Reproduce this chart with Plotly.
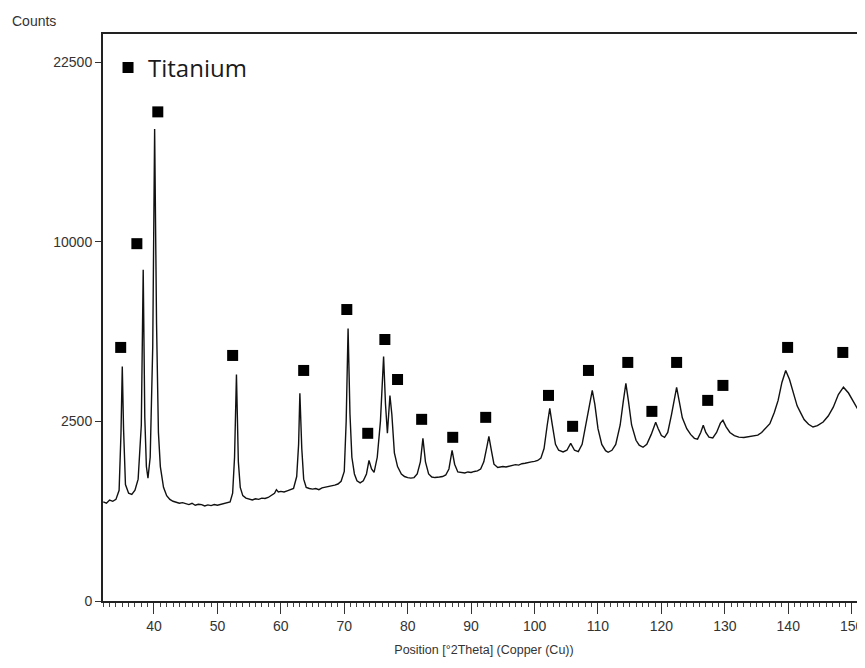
import numpy as np
import plotly.graph_objects as go

# XRD pattern: 2-theta (degrees) and intensity (counts)
two_theta = [32.0, 32.5, 33.0, 33.5, 34.0, 34.5, 34.8, 35.0, 35.2, 35.5, 36.0, 36.5, 37.0, 37.5,
             38.0, 38.3, 38.55, 38.8, 39.05, 39.4, 39.8, 40.1, 40.4, 40.7, 41.0, 41.5, 42.0, 42.5,
             43.0, 43.5, 44.0, 44.5, 45.0, 45.5, 46.0, 46.5, 47.0, 47.5, 48.0, 48.5, 49.0, 49.5,
             50.0, 50.5, 51.0, 51.5, 52.0, 52.4, 52.7, 53.0, 53.3, 53.6, 54.0, 54.5, 55.0, 55.5,
             56.0, 56.5, 57.0, 57.5, 58.0, 58.5, 59.0, 59.3, 59.6, 60.0, 60.5, 61.0, 61.5, 62.0,
             62.5, 62.8, 63.0, 63.3, 63.6, 64.0, 64.5, 65.0, 65.5, 66.0, 66.5, 67.0, 67.5, 68.0,
             68.5, 69.0, 69.5, 70.0, 70.3, 70.6, 70.9, 71.2, 71.6, 72.0, 72.5, 73.0, 73.5, 73.9,
             74.3, 74.7, 75.2, 75.7, 76.2, 76.5, 76.8, 77.2, 77.5, 77.9, 78.4, 79.0, 79.5, 80.0,
             80.5, 81.0, 81.5, 82.0, 82.4, 82.8, 83.3, 83.8, 84.3, 85.0, 85.5, 86.0, 86.5, 87.0,
             87.4, 87.9, 88.5, 89.0, 89.5, 90.0, 90.5, 91.0, 91.5, 92.0, 92.5, 92.8, 93.2, 93.6,
             94.2, 95.0, 95.5, 96.0, 96.5, 97.0, 97.5, 98.0, 98.5, 99.0, 99.5, 100.0, 100.5, 101.0,
             101.5, 102.0, 102.4, 102.8, 103.3, 103.8, 104.5, 105.1, 105.7, 106.3, 106.9, 107.5,
             108.2, 108.7, 109.1, 109.5, 110.0, 110.6, 111.2, 111.6, 112.2, 112.8, 113.5, 114.0,
             114.4, 114.8, 115.3, 116.0, 116.5, 117.1, 117.7, 118.4, 119.1, 119.5, 120.0, 120.5,
             121.0, 121.6, 122.1, 122.4, 122.8, 123.3, 124.0, 124.6, 125.2, 125.7, 126.2, 126.6,
             127.0, 127.5, 128.1, 128.7, 129.3, 129.7, 130.2, 130.8, 131.5, 132.2, 133.0, 133.8,
             134.5, 135.2, 135.8, 136.4, 137.1, 137.8, 138.4, 139.0, 139.6, 140.2, 140.8, 141.4,
             141.9, 142.5, 143.2, 143.9, 144.6, 145.5, 146.3, 147.1, 147.9, 148.7, 149.5, 150.3,
             151.1, 151.9, 152.3]
counts = [760, 740, 790, 770, 800, 950, 2200, 4260, 2300, 1050, 900, 880, 950, 1150,
          2400, 8500, 2600, 1400, 1170, 1600, 5000, 17260, 6000, 2200, 1400, 1000, 860, 800,
          770, 760, 740, 750, 730, 720, 740, 710, 725, 720, 700, 715, 705, 720,
          710, 720, 730, 740, 760, 900, 1600, 3975, 1500, 1000, 860, 820, 800, 790,
          810, 800, 820, 815, 830, 860, 900, 960, 920, 930, 920, 940, 960, 980,
          1200, 1900, 3340, 1800, 1150, 1000, 980, 970, 980, 960, 990, 1000, 1010, 1020,
          1040, 1060, 1110, 1300, 2500, 5750, 2700, 1600, 1250, 1120, 1080, 1120, 1250, 1530,
          1350, 1280, 1600, 2500, 4630, 3000, 2180, 3270, 2700, 1700, 1400, 1250, 1200, 1180,
          1170, 1180, 1250, 1500, 2050, 1500, 1250, 1190, 1180, 1190, 1200, 1230, 1350, 1760,
          1450, 1290, 1280, 1270, 1290, 1280, 1300, 1310, 1350, 1500, 1850, 2100, 1750, 1450,
          1380, 1400, 1390, 1410, 1420, 1440, 1430, 1460, 1470, 1490, 1500, 1510, 1530, 1580,
          1800, 2400, 2874, 2400, 1900, 1760, 1720, 1760, 1926, 1760, 1730, 1900,
          2500, 3100, 3435, 3000, 2300, 1900, 1750, 1713, 1760, 1900, 2400, 3100,
          3667, 3100, 2400, 2000, 1880, 1830, 1900, 2150, 2472, 2300, 2120, 2075,
          2200, 2700, 3300, 3533, 3100, 2600, 2300, 2150, 2050, 2030, 2200, 2390,
          2200, 2080, 2058, 2200, 2450, 2528, 2350, 2200, 2120, 2080, 2070, 2090,
          2100, 2130, 2200, 2300, 2436, 2750, 3117, 3700, 4117, 3800, 3338, 2950,
          2765, 2550, 2420, 2345, 2380, 2480, 2650, 2910, 3300, 3540, 3350, 3070,
          2800, 2620, 2550]

# Titanium reflection markers (position, marker height in counts)
ti_theta = [34.75, 37.3, 40.6, 52.4, 63.6, 70.4, 73.7, 76.4, 78.4, 82.2, 87.1, 92.3, 102.2,
            106.0, 108.5, 114.7, 118.5, 122.4, 127.3, 129.7, 139.9, 148.6]
ti_counts = [4980, 9890, 18530, 4670, 4117, 6580, 2178, 5297, 3800, 2556, 2075, 2612, 3274,
             2363, 4117, 4408, 2785, 4408, 3117, 3600, 4980, 4785]

y_ticks = [0, 2500, 10000, 22500]
y_tick_labels = ["0", "2500", "10000", "22500"]
x_ticks = [40, 50, 60, 70, 80, 90, 100, 110, 120, 130, 140, 150]

# square-root intensity scale
sq = lambda v: np.sqrt(np.asarray(v, dtype=float))

fig = go.Figure()
fig.add_trace(go.Scatter(x=two_theta, y=sq(counts), mode="lines",
                         line=dict(color="#111111", width=1.4), showlegend=False))
fig.add_trace(go.Scatter(x=ti_theta, y=sq(ti_counts), mode="markers", name="Titanium",
                         marker=dict(symbol="square", size=11, color="black"),
                         showlegend=True))

tick_font = dict(family="Liberation Sans, Arial, sans-serif", size=14, color="#333333")
title_font = dict(family="Liberation Sans, Arial, sans-serif", size=12.5, color="#333333")

fig.update_layout(
    width=857, height=652,
    margin=dict(l=95, r=0, t=26, b=59),
    paper_bgcolor="white", plot_bgcolor="white",
    font=tick_font,
    legend=dict(x=0.0066, y=0.94, xanchor="left", yanchor="middle",
                bgcolor="rgba(0,0,0,0)", borderwidth=0,
                font=dict(family="Open Sans, Noto Sans, sans-serif", size=24, color="#1a1a1a"),
                itemwidth=30, tracegroupgap=0),
    xaxis=dict(range=[31.96, 152.1], tickvals=x_ticks, ticks="outside", ticklen=11,
               tickwidth=1, tickcolor="#333", showline=True, linewidth=2, linecolor="#222",
               mirror=True, showgrid=False, zeroline=False, tickfont=tick_font,
               ticklabeloverflow="allow", automargin=False,
               minor=dict(dtick=1, tick0=0, ticks="outside", ticklen=4, tickcolor="#444",
                          tickwidth=1, showgrid=False),
               title=dict(text="Position [°2Theta] (Copper (Cu))", font=title_font, standoff=12)),
    yaxis=dict(range=[0, 157.8], tickvals=list(sq(y_ticks)), ticktext=y_tick_labels,
               ticks="outside", ticklen=6, tickwidth=1, tickcolor="#333",
               showline=True, linewidth=2, linecolor="#222", showgrid=False,
               zeroline=False, tickfont=tick_font, automargin=False),
    annotations=[dict(text="Counts", xref="paper", yref="paper", x=-0.122, y=1.0,
                      xanchor="left", yanchor="bottom", yshift=3, showarrow=False,
                      font=dict(family="Liberation Sans, Arial, sans-serif", size=14,
                                color="#333333"))],
)

fig.write_html("out.html")
